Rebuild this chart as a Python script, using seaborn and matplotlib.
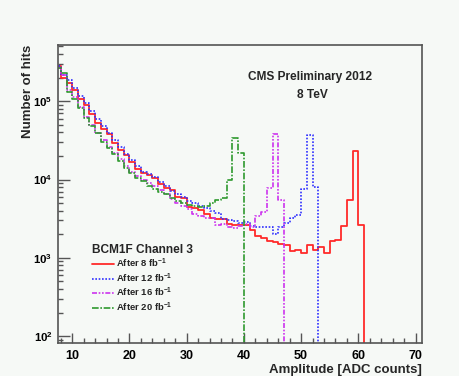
import numpy as np
import pandas as pd
import seaborn as sns
import matplotlib.pyplot as plt
from matplotlib.ticker import FixedLocator, FixedFormatter, LogLocator, NullFormatter, MultipleLocator


# bin edges: 1 ADC count per bin, first bin starts at 7
first_bin = 7
n_bins = 64

# counts per bin (bins 7, 8, 9, ...), zero after the last value
hits_8fb = [282000, 200000, 170000, 138000, 107000, 89000, 69000, 52500, 44700, 37600,
            29500, 24000, 20400, 16600, 13800, 12000, 11500, 10500, 8700, 7760,
            7400, 5900, 5750, 4400, 4270, 4070, 3630, 3240, 3160, 3090,
            2690, 2630, 2630, 2600, 2290, 1900, 1780, 1660, 1580, 1510,
            1460, 1230, 1260, 1150, 1450, 1260, 1380, 1150, 1620, 1700,
            2570, 5500, 23400, 2630]
hits_12fb = [282000, 219000, 186000, 148000, 117000, 95500, 74100, 58900, 47900, 39800,
             31600, 25700, 21400, 17800, 14800, 12600, 11700, 10700, 9300, 8300,
             7240, 6460, 6030, 5370, 5010, 4570, 4370, 3980, 3720, 3160,
             3020, 2950, 2820, 2880, 2570, 2510, 2510, 2450, 2040, 2510,
             2750, 3200, 3550, 7500, 36900, 7940]
hits_16fb = [269000, 214000, 141000, 112000, 85100, 63100, 50100, 39800, 31600, 26300,
             21900, 18200, 15100, 12600, 11000, 9800, 8900, 8300, 7400, 6600,
             5600, 5000, 4570, 4170, 3630, 3390, 3240, 3240, 2630, 2690,
             2510, 2400, 2570, 2690, 2510, 3430, 3890, 7760, 37600, 5500]
hits_20fb = [269000, 229000, 132000, 107000, 81300, 61700, 47900, 39800, 30200, 25100,
             20900, 17400, 14100, 12000, 10500, 9550, 8300, 7590, 6920, 6600,
             5750, 5250, 5010, 4790, 4570, 4470, 4570, 5010, 5500, 5750,
             10000, 33900, 21900]

labels = ["After 8 fb$^{\\mathbf{-1}}$", "After 12 fb$^{\\mathbf{-1}}$",
          "After 16 fb$^{\\mathbf{-1}}$", "After 20 fb$^{\\mathbf{-1}}$"]
colors = ["#ff2a2a", "#3030ff", "#cc33ee", "#2e9a2e"]
dashes = [None, (1, 1), (3, 1, 1, 1, 1, 1), (4, 1, 1, 1)]

y_ticks = [1e2, 1e3, 1e4, 1e5]
y_tick_labels = ["$\\mathbf{10^{2}}$", "$\\mathbf{10^{3}}$", "$\\mathbf{10^{4}}$", "$\\mathbf{10^{5}}$"]


def pad(values):
    out = np.zeros(n_bins)
    out[:len(values)] = values
    return out


def draw(to_file):
    sns.set_style("ticks")
    bg = "#f6f9f6"
    plt.rcParams["font.family"] = ["Liberation Sans", "DejaVu Sans"]
    plt.rcParams["font.weight"] = "bold"
    plt.rcParams["mathtext.fontset"] = "custom"
    plt.rcParams["mathtext.rm"] = "Liberation Sans:bold"
    plt.rcParams["mathtext.bf"] = "Liberation Sans:bold"

    centers = np.arange(first_bin, first_bin + n_bins) + 0.5
    series = [hits_8fb, hits_12fb, hits_16fb, hits_20fb]

    fig = plt.figure(figsize=(4.6, 3.76), dpi=100, facecolor=bg)
    ax = fig.add_axes([0.126, 0.088, 0.791, 0.792], facecolor=bg)

    for vals, lab, col, dsh in zip(series, labels, colors, dashes):
        df = pd.DataFrame({"adc": centers, "hits": pad(vals)})
        kw = dict(color=col, linewidth=1.3 if dsh is None else 1.2, label=lab)
        if dsh is not None:
            kw["dashes"] = dsh
        sns.histplot(data=df, x="adc", weights="hits", binwidth=1,
                     binrange=(first_bin, first_bin + n_bins), element="step",
                     fill=False, ax=ax, **kw)

    ax.set_yscale("log")
    ax.set_xlim(7.5, 71.1)
    ax.set_ylim(82, 5.2e5)

    ax.yaxis.set_major_locator(FixedLocator(y_ticks))
    ax.yaxis.set_major_formatter(FixedFormatter(y_tick_labels))
    ax.yaxis.set_minor_locator(LogLocator(base=10, subs=np.arange(2, 10)))
    ax.yaxis.set_minor_formatter(NullFormatter())
    ax.xaxis.set_major_locator(MultipleLocator(10))
    ax.xaxis.set_minor_locator(MultipleLocator(2))

    ax.tick_params(axis="both", which="both", direction="in", colors="#555555",
                   labelcolor="black", width=1.0)
    ax.tick_params(axis="y", which="major", length=8.5, pad=4, labelsize=8.2)
    ax.tick_params(axis="y", which="minor", length=3.7)
    ax.tick_params(axis="x", which="major", length=7, pad=5, labelsize=9)
    ax.tick_params(axis="x", which="minor", length=3.5)
    for s in ax.spines.values():
        s.set_color("#555555")
        s.set_linewidth(1.2)

    ax.set_xlabel("Amplitude [ADC counts]", fontsize=9.5, fontweight="bold", loc="right")
    ax.set_ylabel("Number of hits", fontsize=9.5, fontweight="bold", loc="top")
    ax.xaxis.set_label_coords(1.0, -0.071)
    ax.yaxis.set_label_coords(-0.066, 1.0)

    fig.text(0.674, 0.795, "CMS Preliminary 2012", ha="center", va="center",
             fontsize=8.6, fontweight="bold")
    fig.text(0.678, 0.748, "8 TeV", ha="center", va="center",
             fontsize=8.6, fontweight="bold")

    leg = ax.legend(loc="upper left", bbox_to_anchor=(0.07, 0.362), frameon=False,
                    title="BCM1F Channel 3", alignment="left", fontsize=6.8,
                    handlelength=2.3, handletextpad=0.3, labelspacing=0.14)
    leg.get_title().set_fontsize(8.6)
    leg.get_title().set_fontweight("bold")

    if to_file:
        fig.savefig("out.png", dpi=100, facecolor=bg)
    else:
        plt.show()
    plt.close(fig)


if __name__ == '__main__':
    draw(True)
